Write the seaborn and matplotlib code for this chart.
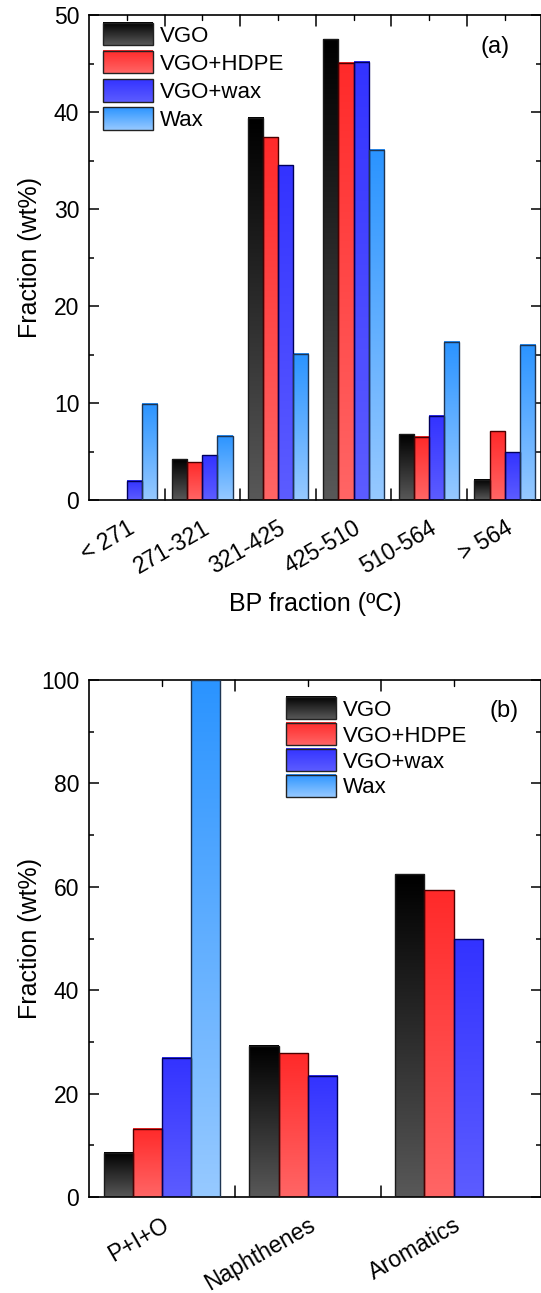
import numpy as np
import pandas as pd
import matplotlib
matplotlib.use("Agg")
import matplotlib.pyplot as plt
import seaborn as sns
from matplotlib.colors import to_rgb
from matplotlib.legend_handler import HandlerBase
from matplotlib.image import BboxImage
from matplotlib.transforms import Bbox, TransformedBbox
from matplotlib.patches import Rectangle, Patch
from matplotlib.ticker import MultipleLocator, FixedLocator

sns.set_theme(style="ticks")
plt.rcParams['font.family'] = ['Liberation Sans', 'DejaVu Sans']
plt.rcParams['text.color'] = 'black'
plt.rcParams['axes.labelcolor'] = 'black'
plt.rcParams['xtick.color'] = 'black'
plt.rcParams['ytick.color'] = 'black'

# Data
series = ['VGO', 'VGO+HDPE', 'VGO+wax', 'Wax']
bp_fractions = ['< 271', '271-321', '321-425', '425-510', '510-564', '> 564']
bp_vgo = [0, 4.2, 39.4, 47.5, 6.8, 2.1]
bp_hdpe = [0, 3.9, 37.4, 45.1, 6.5, 7.1]
bp_vgowax = [2.0, 4.6, 34.5, 45.2, 8.7, 4.9]
bp_wax = [9.9, 6.6, 15.1, 36.1, 16.3, 16.0]

families = ['P+I+O', 'Naphthenes', 'Aromatics']
fam_vgo = [8.6, 29.3, 62.4]
fam_hdpe = [13.2, 27.8, 59.3]
fam_vgowax = [26.9, 23.5, 49.9]
fam_wax = [100.0, 0, 0]

# gradient (top, bottom) colours and edge colours per series
grad_top = ['#000000', '#ff2a2a', '#3333ff', '#2b94ff']
grad_bot = ['#585858', '#ff6565', '#5c5cff', '#96c9ff']
edges = ['#1a1a1a', '#4a0000', '#00005a', '#1e3552']

TICK_FS = 16.5
LABEL_FS = 18


def gradient(i, n=64):
    t = np.linspace(0, 1, n)[:, None]
    top = np.array(to_rgb(grad_top[i]))
    bot = np.array(to_rgb(grad_bot[i]))
    return (top * (1 - t) + bot * t)[:, None, :]


class GradHandler(HandlerBase):
    def __init__(self, idx):
        super().__init__()
        self.idx = idx

    def create_artists(self, legend, orig_handle, xdescent, ydescent,
                       width, height, fontsize, trans):
        bb = Bbox.from_bounds(-xdescent, -ydescent, width, height)
        img = BboxImage(TransformedBbox(bb, trans), interpolation='bilinear')
        img.set_data(gradient(self.idx))
        rect = Rectangle((-xdescent, -ydescent), width, height, facecolor='none',
                         edgecolor='#222222', linewidth=1.0, transform=trans)
        return [img, rect]


def gradient_bars(ax, df, cats, xlim, ylim):
    sns.barplot(data=df, x='cat', y='val', hue='series', order=cats,
                hue_order=series, width=0.8, legend=False, ax=ax,
                saturation=1, err_kws={'linewidth': 0})
    for i, cont in enumerate(ax.containers):
        for p in cont.patches:
            h = p.get_height()
            if not np.isfinite(h) or h <= 0:
                p.set_visible(False)
                continue
            x, y, w = p.get_x(), p.get_y(), p.get_width()
            p.set_facecolor('none')
            p.set_edgecolor(edges[i])
            p.set_linewidth(1.0)
            p.set_zorder(3)
            ax.imshow(gradient(i), extent=[x, x + w, y, y + h], aspect='auto',
                      interpolation='bilinear', zorder=2)
    ax.set_xlim(*xlim)
    ax.set_ylim(*ylim)
    n = len(cats)
    ax.xaxis.set_major_locator(FixedLocator(range(n)))
    ax.set_xticklabels(cats, rotation=30, ha='right', rotation_mode='anchor')
    ax.tick_params(axis='x', which='major', length=0, pad=12, labelsize=TICK_FS)
    # boundary ticks on bottom/top
    for xb in np.arange(0.5, n - 0.5, 1.0):
        ax.plot([xb, xb], [0, 0.022 * ylim[1]], color='black', lw=1.1,
                zorder=5, clip_on=False)
        ax.plot([xb, xb], [ylim[1], ylim[1] - 0.022 * ylim[1]], color='black',
                lw=1.1, zorder=5, clip_on=False)
    for xc in range(n):
        ax.plot([xc, xc], [ylim[1], ylim[1] - 0.011 * ylim[1]], color='black',
                lw=1.0, zorder=5, clip_on=False)
    ax.tick_params(axis='y', which='both', direction='in', right=True,
                   labelsize=TICK_FS, width=1.1, pad=7)
    ax.tick_params(axis='y', which='major', length=7)
    ax.tick_params(axis='y', which='minor', length=3.5)
    for s in ax.spines.values():
        s.set_visible(True)
        s.set_linewidth(1.2)
        s.set_color('black')
    ax.set_ylabel('Fraction (wt%)', fontsize=LABEL_FS)
    ax.yaxis.set_label_coords(-0.104, 0.5)
    ax.grid(False)


def make_df(cats, vals):
    rows = []
    for s, v in zip(series, vals):
        for c, x in zip(cats, v):
            rows.append({'cat': c, 'series': s, 'val': x})
    return pd.DataFrame(rows)


fig = plt.figure(figsize=(5.41, 12.93), dpi=100)
ax1 = fig.add_axes([89 / 541, 1 - 500 / 1293, 452 / 541, 485 / 1293])
ax2 = fig.add_axes([89 / 541, 1 - 1197 / 1293, 452 / 541, 517 / 1293])

df_a = make_df(bp_fractions, [bp_vgo, bp_hdpe, bp_vgowax, bp_wax])
gradient_bars(ax1, df_a, bp_fractions, (-0.5, 5.48), (0, 50))
ax1.yaxis.set_major_locator(MultipleLocator(10))
ax1.yaxis.set_minor_locator(MultipleLocator(5))
ax1.set_xlabel('BP fraction (ºC)', fontsize=LABEL_FS, labelpad=10)
ax1.text(0.93, 0.935, '(a)', transform=ax1.transAxes, ha='right', va='center',
         fontsize=17)

df_b = make_df(families, [fam_vgo, fam_hdpe, fam_vgowax, fam_wax])
gradient_bars(ax2, df_b, families, (-0.5, 2.6), (0, 100))
ax2.yaxis.set_major_locator(MultipleLocator(20))
ax2.yaxis.set_minor_locator(MultipleLocator(10))
ax2.set_xlabel('')
ax2.text(0.95, 0.94, '(b)', transform=ax2.transAxes, ha='right', va='center',
         fontsize=17)

proxies = [Patch() for _ in series]
hmap = {p: GradHandler(i) for i, p in enumerate(proxies)}
for ax, anchor, spacing in [(ax1, (14 / 452, 1 - 8 / 485), 0.2),
                            (ax2, (197 / 452, 1 - 17 / 517), 0.1)]:
    ax.legend(proxies, series, handler_map=hmap, loc='upper left',
              bbox_to_anchor=anchor, frameon=False, fontsize=16, borderpad=0,
              borderaxespad=0, handlelength=2.25, handleheight=1.17,
              labelspacing=spacing, handletextpad=0.3)

fig.savefig('out.png', dpi=100)
